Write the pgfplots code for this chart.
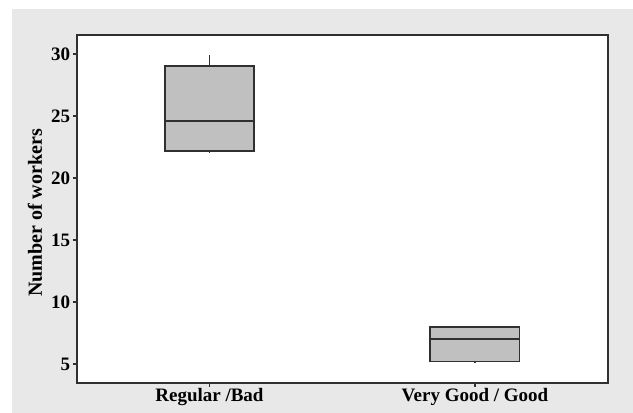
\documentclass[border=0pt]{standalone}
\usepackage{pgfplots}
\pgfplotsset{compat=1.18}
\usepgfplotslibrary{statistics}
\usepackage{fontspec}
\setmainfont{Liberation Serif}
\definecolor{bg}{HTML}{E8E8E8}
\definecolor{boxfill}{HTML}{C0C0C0}
\definecolor{frame}{HTML}{303030}
\begin{document}
\begin{tikzpicture}
\useasboundingbox (0pt,0pt) rectangle (633pt,413pt);
\fill[white] (0pt,0pt) rectangle (633pt,413pt);
\fill[bg] (12pt,0pt) rectangle (633pt,404pt);
\begin{axis}[
  at={(76.7pt,30.3pt)}, anchor=south west,
  scale only axis, width=531pt, height=347.7pt,
  xmin=0.5, xmax=2.5, ymin=3.49, ymax=31.53,
  xtick={1,2}, xticklabels={Regular /Bad, Very Good / Good},
  ytick={5,10,15,20,25,30},
  tick align=outside, tick pos=left, major tick length=4pt,
  draw=frame, line width=2pt,
  axis background/.style={fill=white},
  every tick/.style={draw=frame, line width=1.2pt},
  /pgf/number format/assume math mode=true,
  yticklabel style={font=\fontsize{19}{19}\selectfont\bfseries, inner sep=1.5pt},
  xticklabel style={font=\fontsize{19}{19}\selectfont\bfseries, inner sep=1pt},
  ylabel={Number of workers},
  ylabel style={font=\fontsize{20}{20}\selectfont\bfseries, at={(axis description cs:-0.0785,0.488)}, anchor=center},
  boxplot/draw direction=y,
]
\addplot+[solid, draw=frame, fill=boxfill, line width=1.8pt, mark=none,
  boxplot prepared={lower whisker=22.0, lower quartile=22.2, median=24.6,
    upper quartile=29, upper whisker=29.9, draw position=1, box extend=0.336, whisker extend=0}]
  coordinates {};
\addplot+[solid, draw=frame, fill=boxfill, line width=1.8pt, mark=none,
  boxplot prepared={lower whisker=5.05, lower quartile=5.2, median=7,
    upper quartile=8, upper whisker=8, draw position=2, box extend=0.336, whisker extend=0}]
  coordinates {};
\end{axis}
\end{tikzpicture}
\end{document}
